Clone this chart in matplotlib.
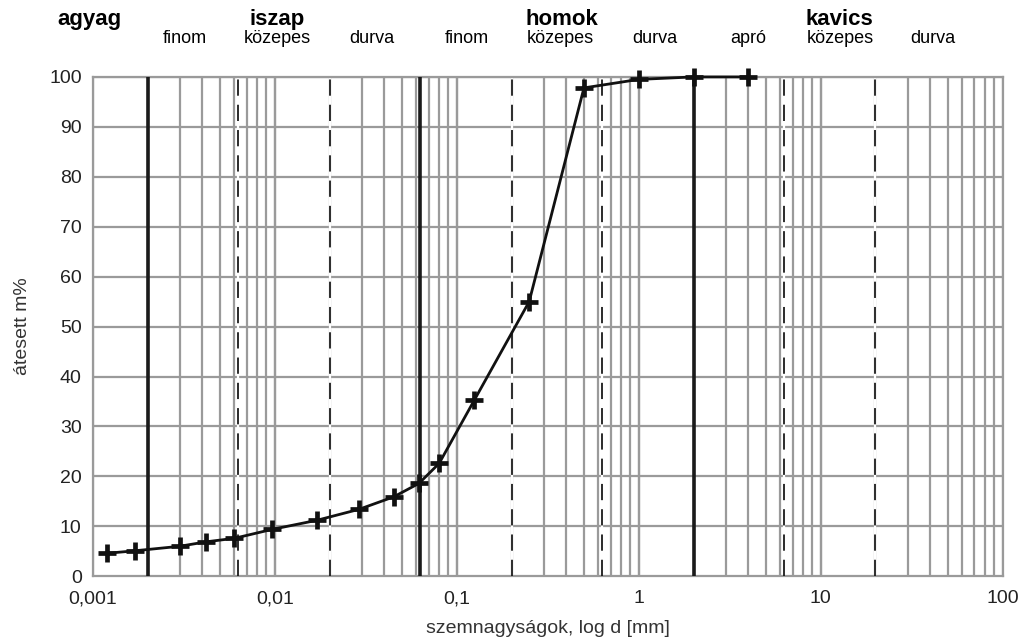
import matplotlib
matplotlib.use("Agg")
import matplotlib.pyplot as plt

plt.rcParams['font.family'] = ['Liberation Sans', 'DejaVu Sans']

# grain size distribution (sieve + hydrometer)
d_mm = [0.0012, 0.0017, 0.003, 0.0042, 0.006, 0.0097, 0.017, 0.029, 0.045,
        0.062, 0.08, 0.125, 0.25, 0.5, 1.0, 2.0, 4.0]
passing = [4.6, 5.1, 6.0, 6.9, 7.6, 9.4, 11.2, 13.4, 15.9,
           18.6, 22.6, 35.3, 55.0, 97.8, 99.5, 100.0, 100.0]

main_bounds = [0.002, 0.063, 2.0]
sub_bounds = [0.0063, 0.02, 0.2, 0.63, 6.3, 20.0]

groups = ['agyag', 'iszap', 'homok', 'kavics']
group_x = [0.00096, 0.0103, 0.38, 12.6]
subs = ['finom', 'közepes', 'durva', 'finom', 'közepes', 'durva', 'apró', 'közepes', 'durva']
sub_x = [0.0032, 0.0103, 0.0343, 0.114, 0.37, 1.22, 3.98, 12.8, 41.2]

xtick_vals = [0.001, 0.01, 0.1, 1, 10, 100]
xtick_labels = ['0,001', '0,01', '0,1', '1', '10', '100']

fig = plt.figure(figsize=(10.2, 6.41), dpi=100)
ax = fig.add_axes([0.091, 0.101, 0.892, 0.779])
ax.set_xscale('log')
ax.set_xlim(0.001, 100)
ax.set_ylim(0, 100)

# log grid: every 1..9 x 10^k
grid_c = '#9a9a9a'
for dec in [0.001, 0.01, 0.1, 1, 10]:
    for k in range(1, 11):
        ax.axvline(dec * k, color=grid_c, lw=1.6, zorder=1)
for yv in range(10, 101, 10):
    ax.axhline(yv, color=grid_c, lw=1.6, zorder=1)

for b in main_bounds:
    ax.axvline(b, color='#1a1a1a', lw=2.6, zorder=3)
for b in sub_bounds:
    ax.axvline(b, color='white', lw=1.6, zorder=2)
    ax.axvline(b, color='#1a1a1a', lw=1.3, dashes=(9, 5), zorder=3)

ax.plot(d_mm, passing, color='#111111', lw=2, marker='+', ms=13, mew=3.4,
        zorder=5, clip_on=False)

for s in ax.spines.values():
    s.set_color(grid_c)
    s.set_linewidth(1.6)

ax.set_xticks(xtick_vals)
ax.set_xticklabels(xtick_labels)
ax.xaxis.set_minor_locator(matplotlib.ticker.NullLocator())
ax.set_yticks(range(0, 101, 10))
ax.tick_params(length=0, labelsize=14, colors='#222222')
ax.tick_params(axis='y', pad=8)
ax.tick_params(axis='x', pad=10)

ax.set_ylabel('átesett m%', fontsize=14, color='#333333', labelpad=13)
ax.set_xlabel('szemnagyságok, log d [mm]', fontsize=14, color='#333333', labelpad=9)

for g, gx in zip(groups, group_x):
    ax.text(gx, 1.104, g, transform=ax.get_xaxis_transform(), ha='center', va='baseline',
            fontsize=16, fontweight='bold', color='black')
for s, sx in zip(subs, sub_x):
    ax.text(sx, 1.068, s, transform=ax.get_xaxis_transform(), ha='center', va='baseline',
            fontsize=13, color='black')

fig.savefig('out.png', dpi=100)
